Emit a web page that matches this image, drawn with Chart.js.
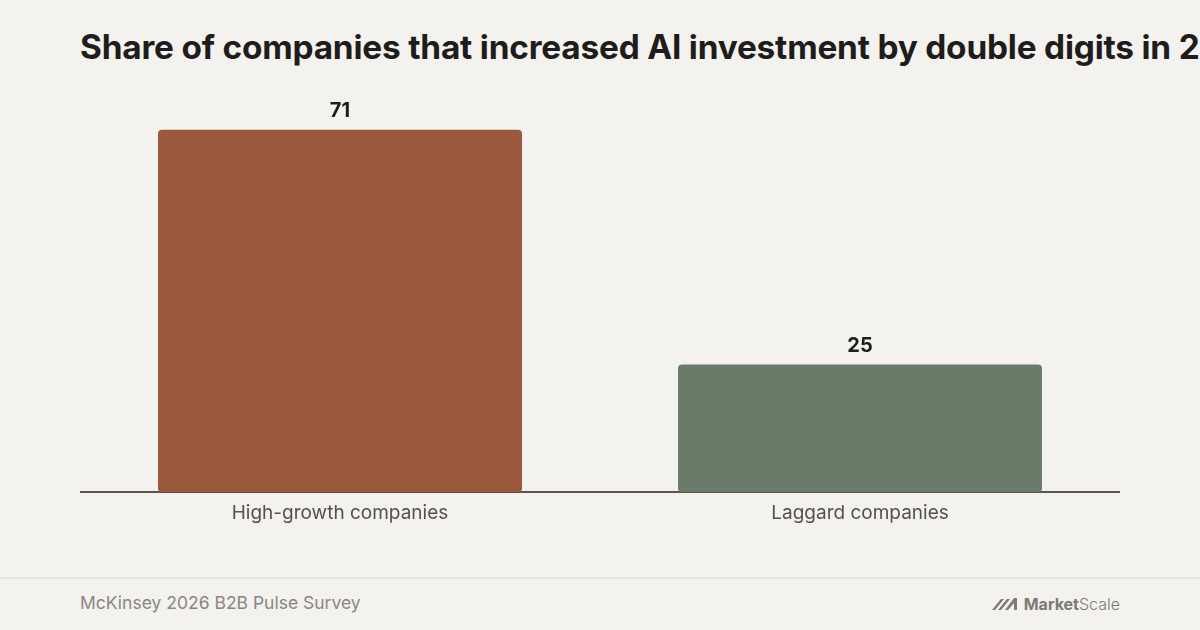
<!DOCTYPE html>
<html>
<head>
<meta charset="utf-8">
<script src="https://cdn.jsdelivr.net/npm/chart.js@4"></script>
<style>
  html, body { margin: 0; padding: 0; }
  body {
    width: 1200px; height: 630px; overflow: hidden; position: relative;
    background: #f3f2ee; font-family: Inter, "Noto Sans", sans-serif;
  }
  #title {
    position: absolute; left: 80px; top: 27px; margin: 0;
    font-size: 33.4px; font-weight: 700; color: #1e1d1b; white-space: nowrap;
    letter-spacing: -0.2px;
  }
  #wrap { position: absolute; left: 80px; top: 90px; width: 1040px; height: 450px; }
  #footer-line { position: absolute; left: 0; top: 577px; width: 1200px; height: 2px; background: #e6e4df; }
  #source { position: absolute; left: 80px; top: 592px; font-size: 17.5px; color: #8a8681; }
  #logo { position: absolute; right: 80px; top: 594px; font-size: 16px; color: #7d7975; display: flex; align-items: center; }
  #logo b { font-weight: 700; }
  #logo span { font-weight: 300; }
</style>
</head>
<body>
<h1 id="title">Share of companies that increased AI investment by double digits in 2025</h1>
<div id="wrap"><canvas id="chart"></canvas></div>
<div id="footer-line"></div>
<div id="source">McKinsey 2026 B2B Pulse Survey</div>
<div id="logo">
  <svg width="30" height="14" viewBox="0 0 30 14" style="margin-right:2px">
    <path d="M0 13 L9 2 L12 2 L3 13 Z M6 13 L15 2 L18 2 L9 13 Z M13 13 L22 1 L25 1 L25 13 L22 13 L22 6 L16 13 Z" fill="#7d7975"/>
  </svg>
  <b>Market</b><span>Scale</span>
</div>
<script>
const categories = ['High-growth companies', 'Laggard companies'];
const shares = [71, 25];
const barColors = ['#9a593d', '#6b7b6a'];

const valueLabels = {
  id: 'valueLabels',
  afterDatasetsDraw(chart) {
    const ctx = chart.ctx;
    const meta = chart.getDatasetMeta(0);
    ctx.save();
    ctx.font = '700 20px Inter, "Noto Sans", sans-serif';
    ctx.fillStyle = '#1e1d1b';
    ctx.textAlign = 'center';
    ctx.textBaseline = 'bottom';
    meta.data.forEach((bar, i) => {
      ctx.fillText(shares[i], bar.x, bar.y - 9);
    });
    ctx.restore();
  }
};

new Chart(document.getElementById('chart'), {
  type: 'bar',
  data: {
    labels: categories,
    datasets: [{
      data: shares,
      backgroundColor: barColors,
      borderRadius: 4,
      borderSkipped: false,
      categoryPercentage: 1,
      barPercentage: 0.7
    }]
  },
  options: {
    responsive: true,
    maintainAspectRatio: false,
    animation: false,
    layout: { padding: { top: 0, bottom: 5, left: 0, right: 0 } },
    plugins: { legend: { display: false }, tooltip: { enabled: false } },
    scales: {
      x: {
        grid: { display: false, drawTicks: false },
        border: { display: true, color: '#5a544e', width: 2 },
        ticks: { color: '#55514c', padding: 10, font: { family: 'Inter', size: 19 } }
      },
      y: {
        display: false,
        min: 0,
        max: 78.8
      }
    }
  },
  plugins: [valueLabels]
});
</script>
</body>
</html>
